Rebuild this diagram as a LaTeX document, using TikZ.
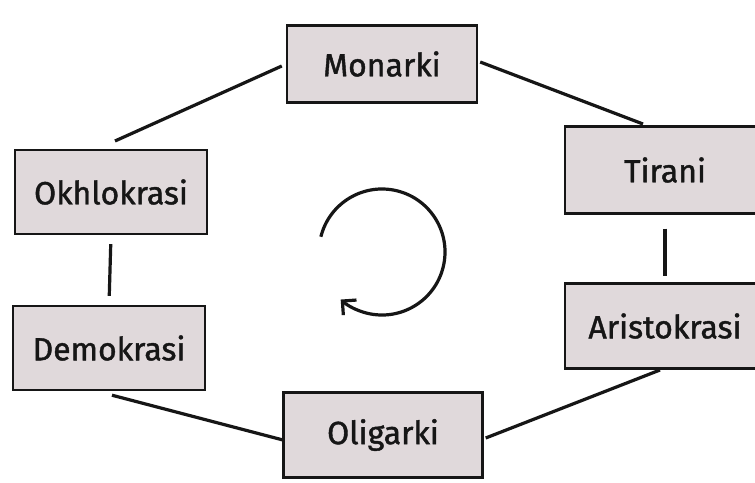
\documentclass[tikz,border=0pt]{standalone}
\usepackage{fontspec}
\setmainfont{Fira Sans}[FakeBold=1.3]
\usetikzlibrary{arrows.meta,calc}
\definecolor{boxfill}{RGB}{224,217,219}
\definecolor{ink}{RGB}{22,22,22}
\begin{document}
\begin{tikzpicture}[x=1pt,y=-1pt,
  govbox/.style={draw=ink, line width=2.4pt, fill=boxfill, rectangle, inner sep=0pt,
    font=\fontsize{32}{38}\selectfont, text=ink},
  conn/.style={draw=ink, line width=3.2pt}]
\useasboundingbox (0,0) rectangle (755,482);
\fill[white] (0,0) rectangle (755,482);
\begin{scope}
\clip (0,0) rectangle (755,482);
\node[govbox, minimum width=190pt, minimum height=77pt] (mon) at (382,64) {Monarki};
\node[govbox, minimum width=192pt, minimum height=84pt] (okh) at (111,192) {Okhlokrasi};
\node[govbox, minimum width=200pt, minimum height=87pt] (tir) at (665,170) {Tirani};
\node[govbox, minimum width=200pt, minimum height=85pt] (ari) at (665,326) {Aristokrasi};
\node[govbox, minimum width=192pt, minimum height=84pt] (dem) at (109,348) {Demokrasi};
\node[govbox, minimum width=199pt, minimum height=85pt] (oli) at (383,435) {Oligarki};
\end{scope}
\coordinate (c1) at (115,141);
\coordinate (c2) at (643,124);
\coordinate (c3) at (283,440);
\coordinate (c4) at (660,370);
\draw[conn] (mon.west) ++(-4,2) -- (c1);
\draw[conn] (mon.east) ++(2,-2) -- (c2);
\draw[conn, shorten <=14pt, shorten >=6pt] (tir.south) -- (ari.north);
\draw[conn, shorten <=9pt, shorten >=9pt] (okh.south) -- (dem.south |- dem.north);
\draw[conn] ([xshift=3pt,yshift=-4pt]dem.south) -- (c3);
\draw[conn] ([xshift=2pt,yshift=-3pt]oli.east) -- (c4);
\coordinate (cyc) at (382,252);
\draw[ink, line width=3.2pt, -{Straight Barb[length=10pt,width=20pt,line width=3.2pt]}]
  ($(cyc)+(-166:63)$) arc[start angle=-166, end angle=131, radius=63];
\end{tikzpicture}
\end{document}
